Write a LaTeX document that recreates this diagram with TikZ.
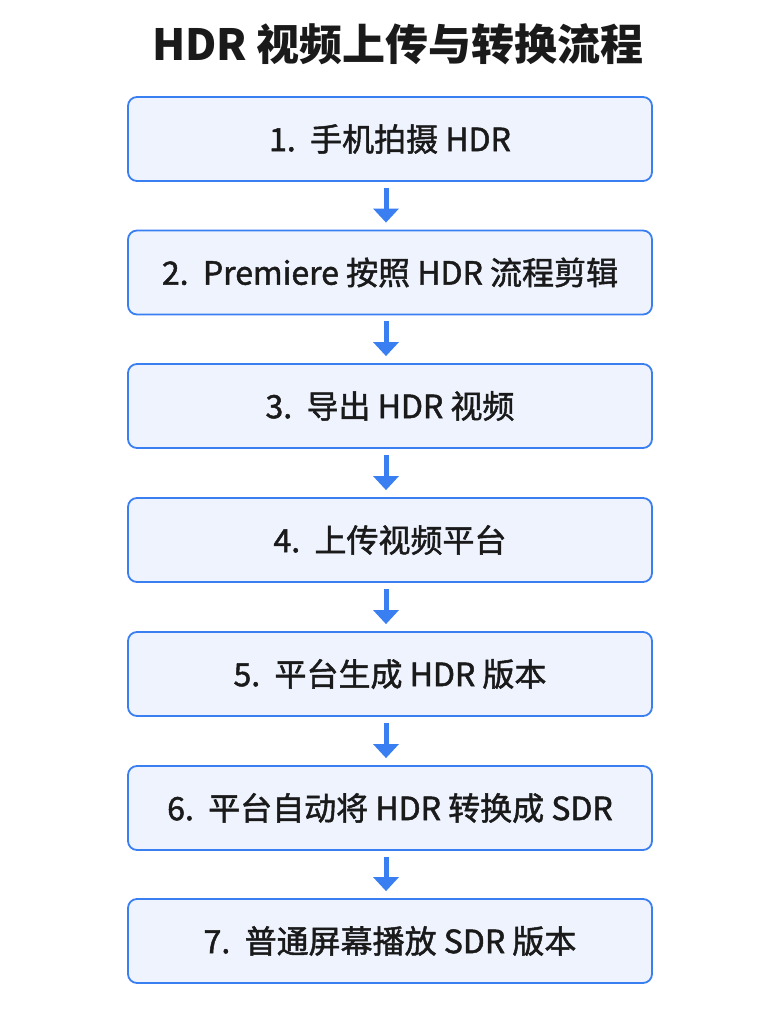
\documentclass[tikz,border=0pt]{standalone}
\usepackage{fontspec}
\setmainfont{Noto Sans CJK SC}
\newfontfamily\boxfont{Noto Sans CJK SC}[FakeBold=1.5]
\usetikzlibrary{arrows.meta}
\definecolor{bblue}{HTML}{3A7FF2}
\definecolor{bfill}{HTML}{EEF3FE}
\definecolor{ttext}{HTML}{1A1A1A}
\begin{document}
\begin{tikzpicture}[x=1pt,y=-1pt,
  stepbox/.style={draw=bblue,line width=1.8pt,fill=bfill,rounded corners=9pt,
    minimum width=524pt,minimum height=84pt,inner sep=0pt,
    font=\boxfont\fontsize{32}{38}\selectfont,text=ttext},
  flow/.style={draw=bblue,line width=5pt,-{Triangle[length=14pt,width=25pt]}}]
\useasboundingbox (0,0) rectangle (768,1024);
\fill[white] (0,0) rectangle (768,1024);
\node[font=\fontsize{43}{50}\selectfont\bfseries,text=ttext] (title) at (398,44) {HDR 视频上传与转换流程};
\node[stepbox] (s1) at (390,139) {1.~~手机拍摄 HDR};
\node[stepbox] (s2) at (390,272.5) {2.~~Premiere 按照 HDR 流程剪辑};
\node[stepbox] (s3) at (390,406) {3.~~导出 HDR 视频};
\node[stepbox] (s4) at (390,540) {4.~~上传视频平台};
\node[stepbox] (s5) at (390,674) {5.~~平台生成 HDR 版本};
\node[stepbox] (s6) at (390,808) {6.~~平台自动将 HDR 转换成 SDR};
\node[stepbox] (s7) at (390,941) {7.~~普通屏幕播放 SDR 版本};
\foreach \a/\b in {s1/s2,s2/s3,s3/s4,s4/s5,s5/s6,s6/s7}
  \draw[flow] ([xshift=-4pt,yshift=-6pt]\a.south) -- ([xshift=-4pt,yshift=7pt]\b.north);
\end{tikzpicture}
\end{document}
